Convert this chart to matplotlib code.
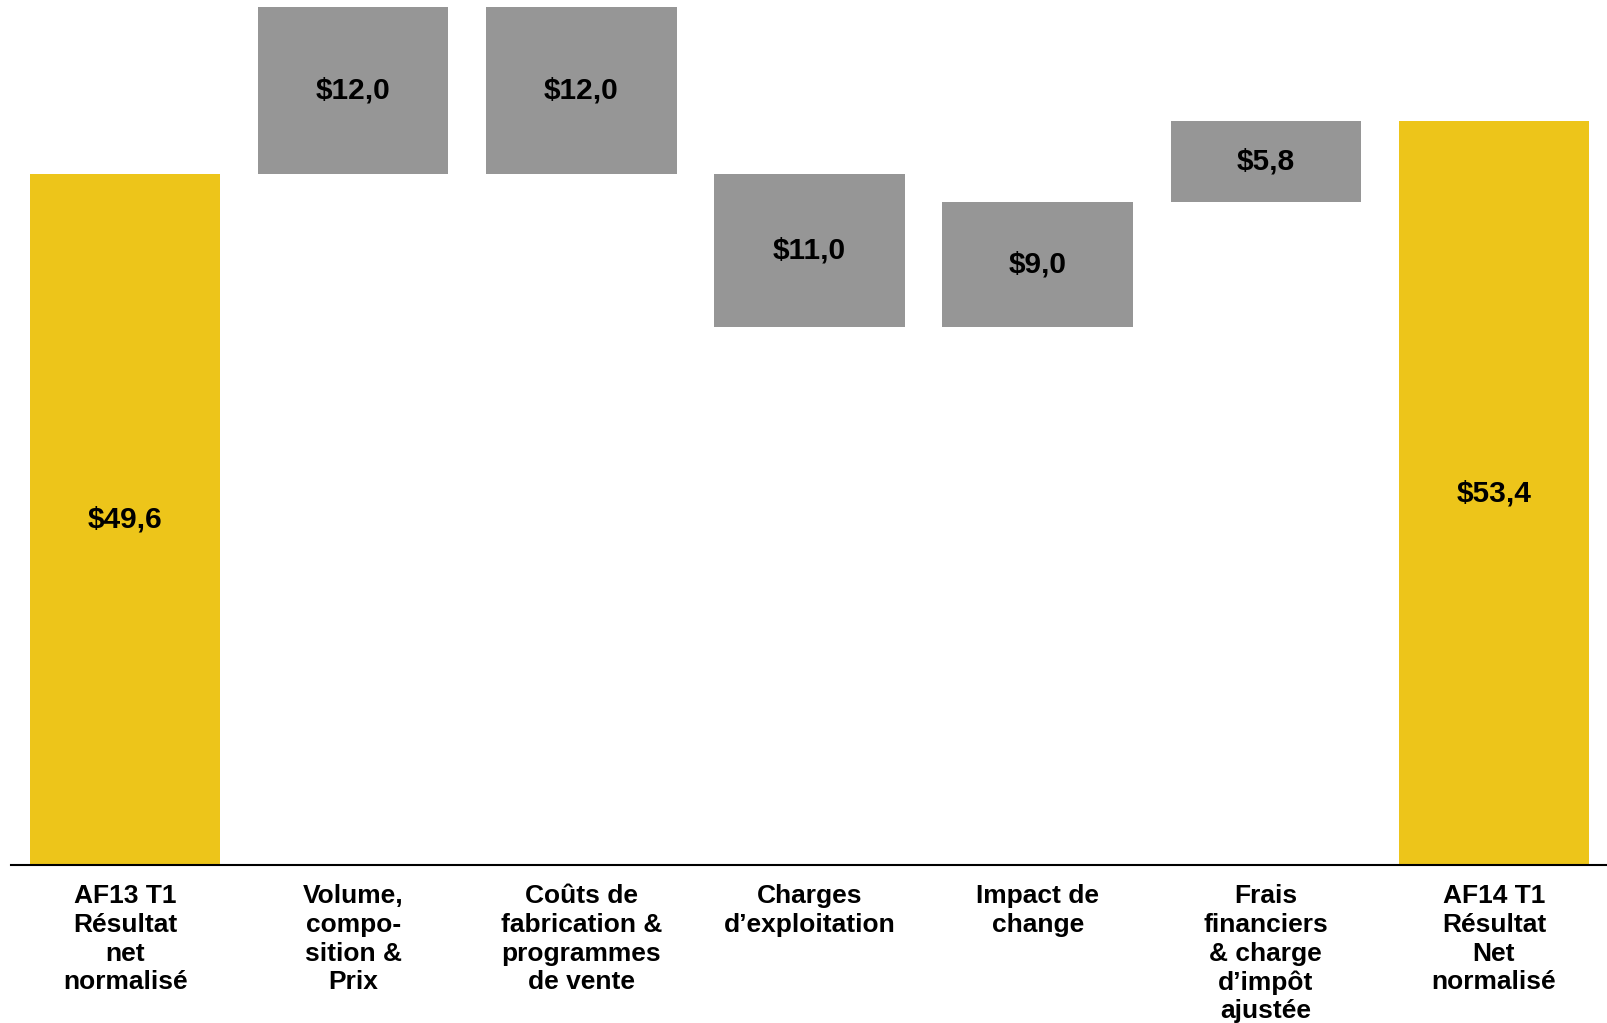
import numpy as np
import matplotlib.pyplot as plt

plt.rcParams['font.family'] = ['Liberation Sans', 'DejaVu Sans']

# données du graphique en cascade
categories = [
    "AF13 T1\nRésultat\nnet\nnormalisé",
    "Volume,\ncompo-\nsition &\nPrix",
    "Coûts de\nfabrication &\nprogrammes\nde vente",
    "Charges\nd’exploitation",
    "Impact de\nchange",
    "Frais\nfinanciers\n& charge\nd’impôt\najustée",
    "AF14 T1\nRésultat\nNet\nnormalisé",
]
start_value = 49.6
deltas = [12.0, -12.0, -11.0, 9.0, 5.8]
end_value = 53.4

yellow = '#EDC51A'
grey = '#969696'

# bas et hauteurs des barres
levels = start_value + np.cumsum([0] + deltas)
bottoms = [0.0]
heights = [start_value]
for i, d in enumerate(deltas):
    bottoms.append(min(levels[i], levels[i + 1]))
    heights.append(abs(d))
bottoms.append(0.0)
heights.append(end_value)
colors = [yellow] + [grey] * len(deltas) + [yellow]
labels = [start_value] + [abs(d) for d in deltas] + [end_value]

fig = plt.figure(figsize=(16.08, 10.23), dpi=100)
ax = fig.add_axes([11 / 1608, 158 / 1023, 1 - 11 / 1608, 865 / 1023])

x = np.arange(len(categories))
ax.bar(x, heights, bottom=bottoms, width=0.835, color=colors)

for xi, b, h, v in zip(x, bottoms, heights, labels):
    txt = f"${v:.1f}".replace('.', ',')
    ax.text(xi, b + h / 2, txt, ha='center', va='center',
            fontsize=21.5, fontweight='bold', color='black')

ax.set_xlim(-0.5, 6.5)
ax.set_ylim(0, 62.1)
ax.set_xticks(x)
ax.set_xticklabels(categories, fontsize=19, fontweight='bold', linespacing=1.24)
ax.tick_params(axis='x', length=0, pad=14)
ax.set_yticks([])
for s in ['left', 'right', 'top']:
    ax.spines[s].set_visible(False)
ax.spines['bottom'].set_linewidth(1.5)

fig.savefig('out.png', dpi=100)
